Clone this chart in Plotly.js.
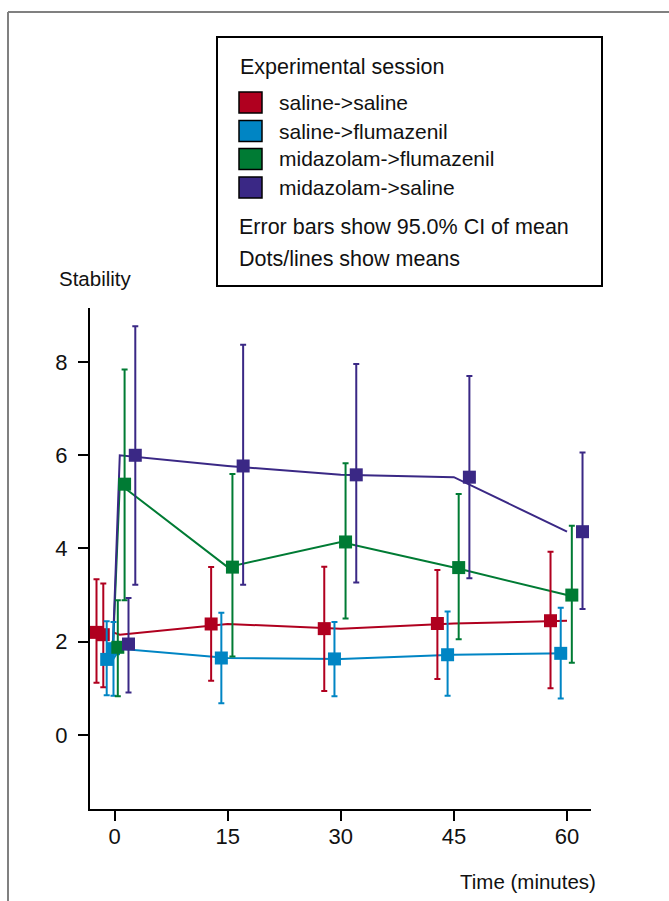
<!DOCTYPE html>
<html>
<head>
<meta charset="utf-8">
<script src="https://cdn.plot.ly/plotly-3.0.1.min.js"></script>
<style>html,body{margin:0;padding:0;background:#fff;}#chart{width:669px;height:901px;}</style>
</head>
<body>
<div id="chart"></div>
<script>
// ---- data ----
const times = [-0.2, 0.7, 15, 30, 45, 60];
const xTicks = [0, 15, 30, 45, 60];
const yTicks = [0, 2, 4, 6, 8];
const seriesNames = ['saline->saline', 'saline->flumazenil', 'midazolam->flumazenil', 'midazolam->saline'];

const salineSalineMean  = [2.20, 2.15, 2.38, 2.28, 2.39, 2.45];
const salineSalineUpper = [3.34, 3.25, 3.60, 3.61, 3.54, 3.93];
const salineSalineLower = [1.12, 1.02, 1.16, 0.94, 1.20, 1.00];

const salineFlumMean  = [1.62, 1.85, 1.65, 1.63, 1.72, 1.75];
const salineFlumUpper = [2.44, 2.42, 2.62, 2.42, 2.65, 2.73];
const salineFlumLower = [0.85, 0.84, 0.68, 0.83, 0.84, 0.78];

const midaFlumMean  = [1.88, 5.38, 3.60, 4.14, 3.59, 3.00];
const midaFlumUpper = [2.89, 7.84, 5.60, 5.83, 5.17, 4.49];
const midaFlumLower = [0.83, 2.89, 1.68, 2.50, 2.05, 1.55];

const midaSalineMean  = [1.95, 6.00, 5.77, 5.58, 5.53, 4.36];
const midaSalineUpper = [2.94, 8.77, 8.37, 7.96, 7.70, 6.06];
const midaSalineLower = [0.91, 3.22, 3.22, 3.27, 3.36, 2.70];

const legendTitle = 'Experimental session';
const notes = ['Error bars show 95.0% CI of mean', 'Dots/lines show means'];
const yTitle = 'Stability';
const xTitle = 'Time (minutes)';

// ---- styling ----
const colors = ['#B0001F', '#0085C4', '#007B34', '#3A2885'];
const dodgePx = [-16.5, -6.3, 4.8, 15.5];
const FONT = '"Liberation Sans", Arial, sans-serif';

const W = 669, H = 901;
const M = {l: 90, r: 78, t: 308, b: 92};
const plotW = W - M.l - M.r, plotH = H - M.t - M.b;
const xRange = [-3.25, 63.18];
const yRange = [-1.59, 9.16];
const pxPerMin = plotW / (xRange[1] - xRange[0]);
const px2x = p => (p - M.l) / plotW;
const py2y = p => (H - M.b - p) / plotH;

const series = [
  {mean: salineSalineMean, up: salineSalineUpper, lo: salineSalineLower},
  {mean: salineFlumMean, up: salineFlumUpper, lo: salineFlumLower},
  {mean: midaFlumMean, up: midaFlumUpper, lo: midaFlumLower},
  {mean: midaSalineMean, up: midaSalineUpper, lo: midaSalineLower}
];

const traces = [];
series.forEach((s, i) => {
  traces.push({
    type: 'scatter', mode: 'lines', x: times, y: s.mean,
    line: {color: colors[i], width: 2}, showlegend: false, hoverinfo: 'skip'
  });
});
series.forEach((s, i) => {
  const off = dodgePx[i] / pxPerMin;
  traces.push({
    type: 'scatter', mode: 'markers', name: seriesNames[i],
    x: times.map(t => t + off), y: s.mean,
    marker: {symbol: 'square', size: 13, color: colors[i], line: {width: 0}},
    error_y: {
      type: 'data', symmetric: false,
      array: s.up.map((u, k) => u - s.mean[k]),
      arrayminus: s.lo.map((l, k) => s.mean[k] - l),
      color: colors[i], thickness: 2, width: 3
    },
    showlegend: false
  });
});

// legend box and frame
const shapes = [
  {type: 'line', xref: 'paper', yref: 'paper', x0: px2x(8), x1: px2x(8), y0: py2y(12), y1: py2y(910), line: {color: '#808080', width: 2}},
  {type: 'line', xref: 'paper', yref: 'paper', x0: px2x(8), x1: px2x(680), y0: py2y(12), y1: py2y(12), line: {color: '#808080', width: 2}},
  {type: 'rect', xref: 'paper', yref: 'paper', x0: px2x(217), x1: px2x(602), y0: py2y(37), y1: py2y(286), line: {color: '#000', width: 2}, fillcolor: 'rgba(0,0,0,0)'}
];
const annotations = [];
annotations.push({xref: 'paper', yref: 'paper', x: px2x(238), y: py2y(67), xanchor: 'left', yanchor: 'middle', showarrow: false,
  text: legendTitle, font: {family: FONT, size: 21.5, color: '#111'}});
const itemY = [102.5, 131, 159, 187.5];
seriesNames.forEach((n, i) => {
  shapes.push({type: 'rect', xref: 'paper', yref: 'paper', x0: px2x(239), x1: px2x(262), y0: py2y(itemY[i] - 10.5), y1: py2y(itemY[i] + 10.5),
    fillcolor: colors[i], line: {color: '#000', width: 1.5}});
  annotations.push({xref: 'paper', yref: 'paper', x: px2x(277), y: py2y(itemY[i]), xanchor: 'left', yanchor: 'middle', showarrow: false,
    text: n.replace(/>/g, '&gt;'), font: {family: FONT, size: 21, color: '#111'}});
});
const noteY = [227, 259];
notes.forEach((t, i) => {
  annotations.push({xref: 'paper', yref: 'paper', x: px2x(237), y: py2y(noteY[i]), xanchor: 'left', yanchor: 'middle', showarrow: false,
    text: t, font: {family: FONT, size: 21.5, color: '#111'}});
});
annotations.push({xref: 'paper', yref: 'paper', x: px2x(57), y: py2y(278), xanchor: 'left', yanchor: 'middle', showarrow: false,
  text: yTitle, font: {family: FONT, size: 20.5, color: '#111'}});
annotations.push({xref: 'paper', yref: 'paper', x: px2x(598), y: py2y(881), xanchor: 'right', yanchor: 'middle', showarrow: false,
  text: xTitle, font: {family: FONT, size: 20.5, color: '#111'}});

const axisCommon = {
  showline: true, linecolor: '#000', linewidth: 2, showgrid: false, zeroline: false,
  ticks: 'outside', ticklen: 10, tickwidth: 2, tickcolor: '#000',
  tickfont: {family: FONT, size: 22, color: '#111'}, fixedrange: true
};

const layout = {
  width: W, height: H, margin: {l: M.l, r: M.r, t: M.t, b: M.b, pad: 0},
  paper_bgcolor: '#fff', plot_bgcolor: '#fff', showlegend: false,
  xaxis: Object.assign({}, axisCommon, {range: xRange, tickmode: 'array', tickvals: xTicks, ticktext: xTicks.map(String), ticklabelstandoff: -3}),
  yaxis: Object.assign({}, axisCommon, {range: yRange, tickmode: 'array', tickvals: yTicks, ticktext: yTicks.map(String), ticklabelstandoff: 6}),
  shapes: shapes, annotations: annotations
};

Plotly.newPlot('chart', traces, layout, {staticPlot: true, displayModeBar: false});
</script>
</body>
</html>
